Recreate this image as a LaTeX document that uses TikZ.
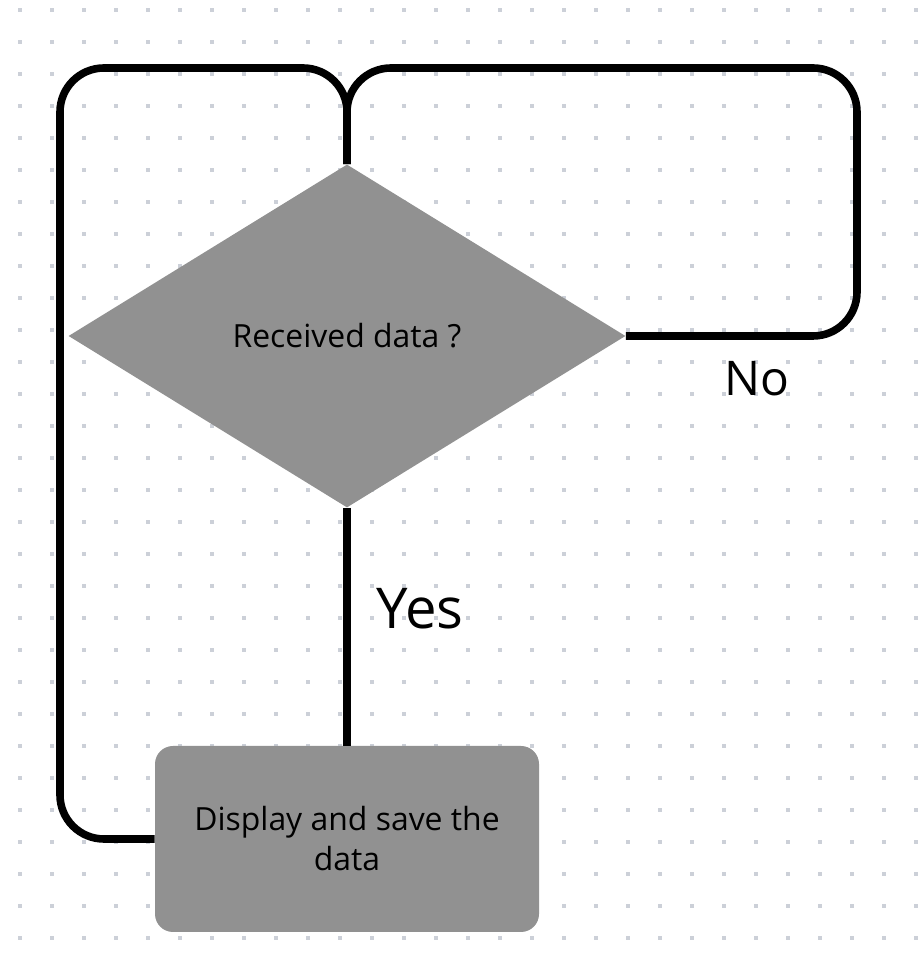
\documentclass[tikz,border=0pt]{standalone}
\usepackage{fontspec}
\setmainfont{Open Sans}
\usetikzlibrary{shapes.geometric}
\definecolor{boxgray}{RGB}{145,145,145}
\definecolor{dotgray}{RGB}{204,208,216}
\begin{document}
\begin{tikzpicture}[flow/.style={line width=0.19cm, rounded corners=1.1cm}]
\useasboundingbox (0,0) rectangle (23.05,24.2);
\foreach \i in {0,...,28}
  \foreach \j in {0,...,29}
    \fill [dotgray] (0.45+0.8*\i,23.9-0.8*\j) rectangle ++(0.1,0.1);
\node [diamond, fill=boxgray, minimum width=13.925cm, minimum height=8.575cm, inner sep=0pt, font=\fontsize{22.7}{27}\selectfont] (recv) at (8.675,15.8) {Received data ?};
\node [rectangle, rounded corners=0.45cm, fill=boxgray, minimum width=9.6cm, minimum height=4.65cm, align=center, font=\fontsize{22.7}{28.45}\selectfont] (disp) at (8.675,3.225) {Display and save the\\data};
\draw [flow] (recv.south) -- (disp.north);
\draw [flow] (recv.east) -- (21.425,15.8) -- (21.425,22.5) -- (8.675,22.5) -- (recv.north);
\draw [flow] (disp.west) -- (1.5,3.225) -- (1.5,22.5) -- (8.675,22.5) -- (recv.north);
\node [font=\fontsize{40}{48}\selectfont] (yes) at (10.5,8.975) {Yes};
\node [font=\fontsize{34}{40}\selectfont] (no) at (18.925,14.725) {No};
\end{tikzpicture}
\end{document}
